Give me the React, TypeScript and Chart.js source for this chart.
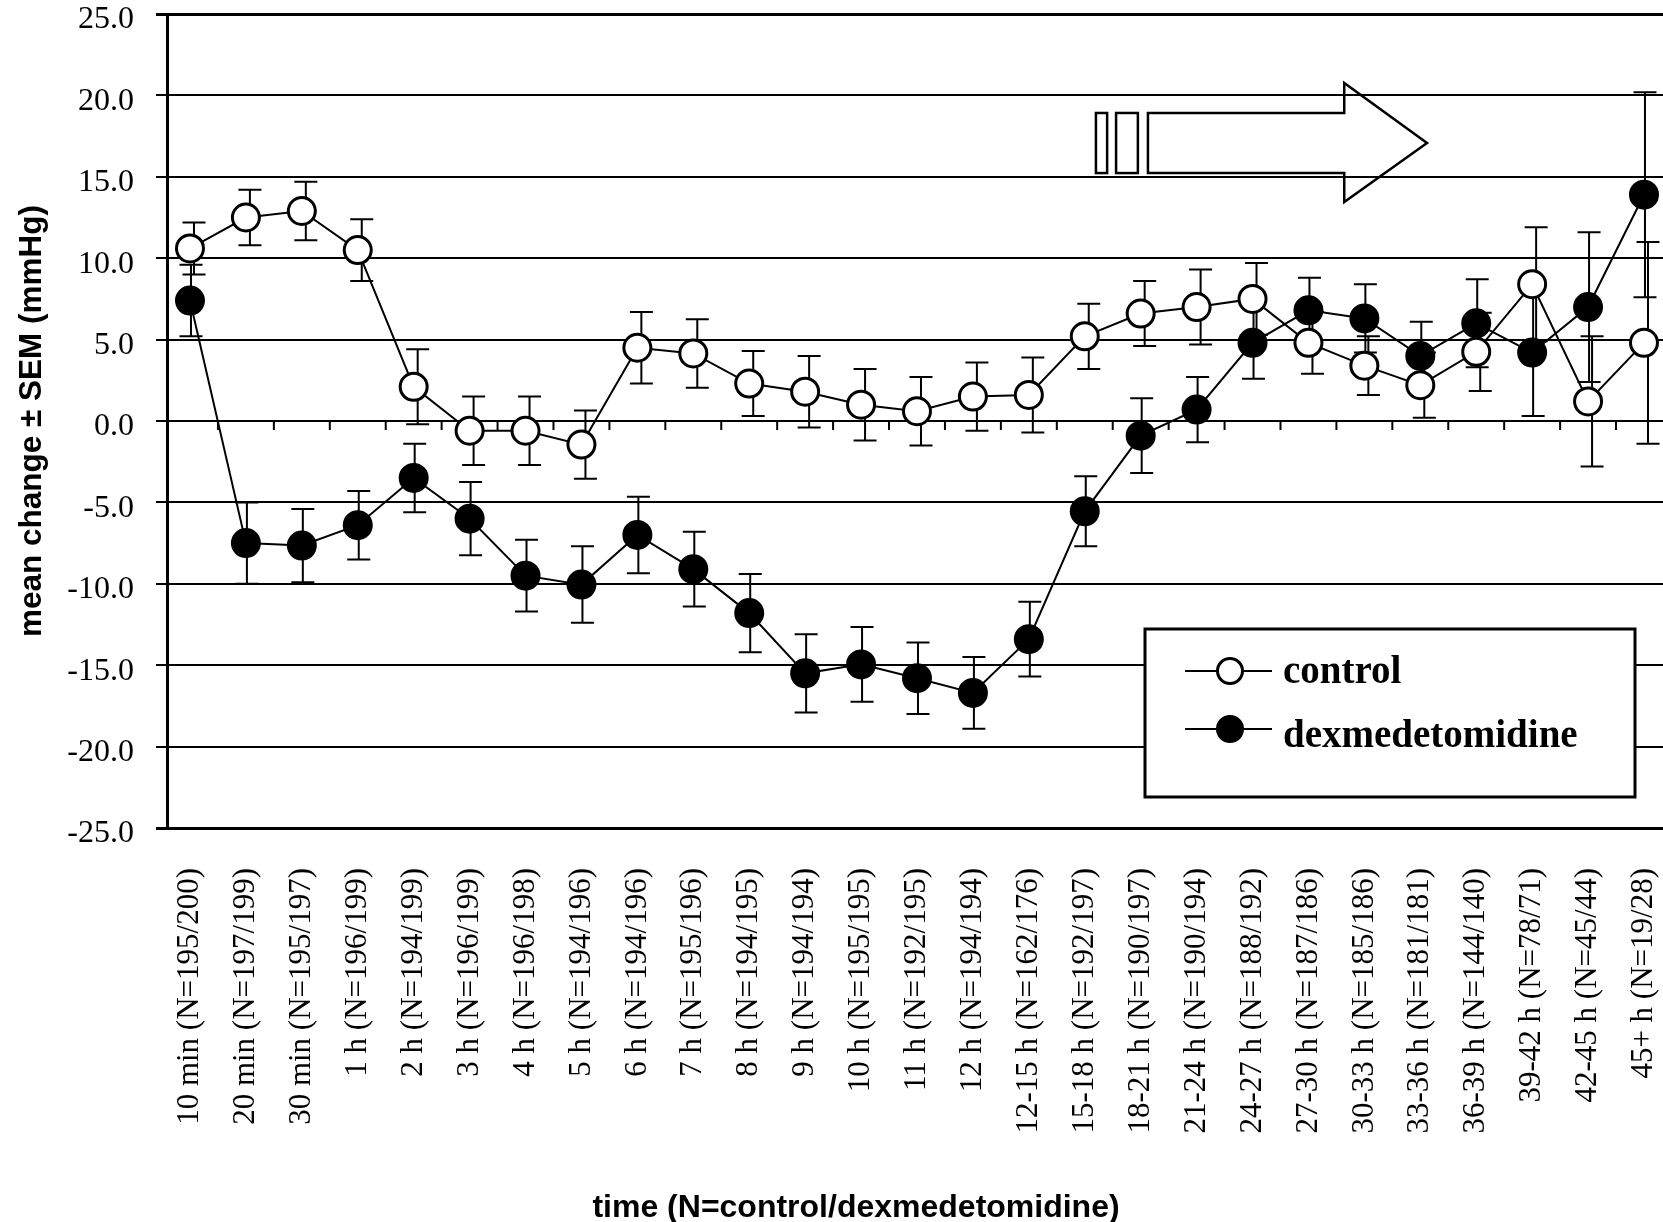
import React, { useEffect, useRef } from "react";
import { Chart, registerables } from "chart.js";

Chart.register(...registerables);

// ---------------- data ----------------
const timeLabels: string[] = [
  "10 min (N=195/200)",
  "20 min (N=197/199)",
  "30 min (N=195/197)",
  "1 h (N=196/199)",
  "2 h (N=194/199)",
  "3 h (N=196/199)",
  "4 h (N=196/198)",
  "5 h (N=194/196)",
  "6 h (N=194/196)",
  "7 h (N=195/196)",
  "8 h (N=194/195)",
  "9 h (N=194/194)",
  "10 h (N=195/195)",
  "11 h (N=192/195)",
  "12 h (N=194/194)",
  "12-15 h (N=162/176)",
  "15-18 h (N=192/197)",
  "18-21 h (N=190/197)",
  "21-24 h (N=190/194)",
  "24-27 h (N=188/192)",
  "27-30 h (N=187/186)",
  "30-33 h (N=185/186)",
  "33-36 h (N=181/181)",
  "36-39 h (N=144/140)",
  "39-42 h (N=78/71)",
  "42-45 h (N=45/44)",
  "45+ h (N=19/28)",
];

const controlMean: number[] = [
  10.6, 12.5, 12.9, 10.5, 2.1, -0.6, -0.6, -1.45, 4.5, 4.15, 2.3, 1.8, 1.0, 0.6,
  1.5, 1.6, 5.2, 6.6, 7.0, 7.5, 4.8, 3.4, 2.2, 4.25, 8.4, 1.2, 4.8,
];
const controlSem: number[] = [
  1.6, 1.7, 1.8, 1.9, 2.3, 2.1, 2.1, 2.1, 2.2, 2.1, 2.0, 2.2, 2.2, 2.1, 2.1, 2.3,
  2.0, 2.0, 2.3, 2.2, 1.9, 1.8, 2.0, 2.4, 3.5, 4.0, 6.2,
];

const dexMean: number[] = [
  7.4, -7.5, -7.65, -6.4, -3.5, -6.0, -9.5, -10.05, -7.0, -9.1, -11.8, -15.5,
  -14.95, -15.8, -16.7, -13.4, -5.55, -0.9, 0.7, 4.8, 6.8, 6.3, 4.0, 6.0, 4.2,
  7.0, 13.9,
];
const dexSem: number[] = [
  2.2, 2.5, 2.25, 2.1, 2.1, 2.25, 2.2, 2.35, 2.35, 2.3, 2.4, 2.4, 2.3, 2.2, 2.2,
  2.3, 2.15, 2.3, 2.0, 2.2, 2.0, 2.1, 2.1, 2.7, 3.9, 4.6, 6.3,
];

const seriesNames: string[] = ["control", "dexmedetomidine"];
const yTickValues: number[] = [-25, -20, -15, -10, -5, 0, 5, 10, 15, 20, 25];
const xAxisTitle = "time (N=control/dexmedetomidine)";
const yAxisTitle = "mean change \u00b1 SEM (mmHg)";

// ---------------- plugins ----------------
const SERIF = "'Liberation Serif', 'Times New Roman', serif";
const SANS = "'Liberation Sans', Arial, sans-serif";

const zeroLineTicks = {
  id: "zeroLineTicks",
  beforeDatasetsDraw(chart: any) {
    const { ctx, scales } = chart;
    const x = scales.x;
    const y = scales.y;
    const y0 = y.getPixelForValue(0);
    ctx.save();
    ctx.strokeStyle = "#000";
    ctx.lineWidth = 2;
    for (let i = 0; i < timeLabels.length - 1; i++) {
      const px = x.getPixelForValue(i + 0.5);
      ctx.beginPath();
      ctx.moveTo(px, y0);
      ctx.lineTo(px, y0 + 9);
      ctx.stroke();
    }
    ctx.restore();
  },
};

const errorBars = {
  id: "errorBars",
  beforeDatasetsDraw(chart: any) {
    const { ctx, scales } = chart;
    const y = scales.y;
    ctx.save();
    ctx.strokeStyle = "#000";
    ctx.lineWidth = 2;
    chart.data.datasets.forEach((ds: any, di: number) => {
      const meta = chart.getDatasetMeta(di);
      meta.data.forEach((pt: any, j: number) => {
        const v = ds.data[j].y;
        const s = ds.sem[j];
        const px = pt.x + ds.barShift;
        const yt = y.getPixelForValue(v + s);
        const yb = y.getPixelForValue(v - s);
        ctx.beginPath();
        ctx.moveTo(px, yt);
        ctx.lineTo(px, yb);
        ctx.moveTo(px - 11.5, yt);
        ctx.lineTo(px + 11.5, yt);
        ctx.moveTo(px - 11.5, yb);
        ctx.lineTo(px + 11.5, yb);
        ctx.stroke();
      });
    });
    ctx.restore();
  },
};

const infusionArrow = {
  id: "infusionArrow",
  beforeDatasetsDraw(chart: any) {
    const { ctx, scales } = chart;
    const X = (v: number) => scales.x.getPixelForValue(v);
    const Y = (v: number) => scales.y.getPixelForValue(v);
    ctx.save();
    ctx.strokeStyle = "#000";
    ctx.lineWidth = 2.5;
    ctx.lineJoin = "miter";
    ctx.strokeRect(X(16.2), Y(18.92), X(16.4) - X(16.2), Y(15.23) - Y(18.92));
    ctx.strokeRect(X(16.56), Y(18.92), X(16.95) - X(16.56), Y(15.23) - Y(18.92));
    ctx.beginPath();
    ctx.moveTo(X(17.13), Y(18.92));
    ctx.lineTo(X(20.64), Y(18.92));
    ctx.lineTo(X(20.64), Y(20.76));
    ctx.lineTo(X(22.12), Y(17.08));
    ctx.lineTo(X(20.64), Y(13.45));
    ctx.lineTo(X(20.64), Y(15.23));
    ctx.lineTo(X(17.13), Y(15.23));
    ctx.closePath();
    ctx.stroke();
    ctx.restore();
  },
};

const drawMarker = (ctx: any, x: number, y: number, r: number, fill: string) => {
  ctx.beginPath();
  ctx.arc(x, y, r, 0, Math.PI * 2);
  ctx.fillStyle = fill;
  ctx.fill();
  ctx.lineWidth = 3;
  ctx.strokeStyle = "#000";
  ctx.stroke();
};

const boxLegend = {
  id: "boxLegend",
  afterDraw(chart: any) {
    const { ctx, chartArea } = chart;
    const L = chartArea.left + 978;
    const T = chartArea.top + 615;
    const W = 490;
    const H = 168;
    ctx.save();
    ctx.fillStyle = "#fff";
    ctx.fillRect(L, T, W, H);
    ctx.strokeStyle = "#000";
    ctx.lineWidth = 3;
    ctx.strokeRect(L, T, W, H);
    const rows = [
      { y: T + 42, base: T + 54, fill: "#fff" },
      { y: T + 100, base: T + 118, fill: "#000" },
    ];
    rows.forEach((r, i) => {
      ctx.strokeStyle = "#000";
      ctx.lineWidth = 2;
      ctx.beginPath();
      ctx.moveTo(L + 40, r.y);
      ctx.lineTo(L + 127, r.y);
      ctx.stroke();
      drawMarker(ctx, L + 85, r.y, 12.5, r.fill);
      ctx.fillStyle = "#000";
      ctx.font = `bold 39px ${SERIF}`;
      ctx.textAlign = "left";
      ctx.textBaseline = "alphabetic";
      ctx.fillText(seriesNames[i], L + 138, r.base);
    });
    ctx.restore();
  },
};

const bottomTitle = {
  id: "bottomTitle",
  afterDraw(chart: any) {
    const { ctx, scales } = chart;
    ctx.save();
    ctx.fillStyle = "#000";
    ctx.font = `bold 32px ${SANS}`;
    ctx.textAlign = "center";
    ctx.textBaseline = "alphabetic";
    ctx.fillText(xAxisTitle, scales.x.getPixelForValue(11.91), 1217);
    ctx.restore();
  },
};

// ---------------- component ----------------
export default function App() {
  const canvasRef = useRef<HTMLCanvasElement | null>(null);

  useEffect(() => {
    if (!canvasRef.current) return;
    const chart = new Chart(canvasRef.current, {
      type: "line",
      data: {
        datasets: [
          {
            label: seriesNames[0],
            data: controlMean.map((v, i) => ({ x: i, y: v })),
            sem: controlSem,
            barShift: 4,
            borderColor: "#000",
            borderWidth: 2,
            pointRadius: 13.5,
            pointHoverRadius: 13.5,
            pointBorderWidth: 3,
            pointBackgroundColor: "#fff",
            pointBorderColor: "#000",
            tension: 0,
            order: 1,
          } as any,
          {
            label: seriesNames[1],
            data: dexMean.map((v, i) => ({ x: i, y: v })),
            sem: dexSem,
            barShift: 1,
            borderColor: "#000",
            borderWidth: 2,
            pointRadius: 13.5,
            pointHoverRadius: 13.5,
            pointBorderWidth: 3,
            pointBackgroundColor: "#000",
            pointBorderColor: "#000",
            tension: 0,
            order: 0,
          } as any,
        ],
      },
      options: {
        responsive: false,
        animation: false,
        events: [],
        layout: { autoPadding: false, padding: { top: 14, left: 0, right: 0, bottom: 0 } },
        plugins: {
          legend: { display: false },
          tooltip: { enabled: false },
        },
        scales: {
          x: {
            type: "linear",
            min: -0.411,
            max: 26.34,
            grid: { display: false, drawTicks: false },
            border: { display: true, color: "#000", width: 3 },
            afterBuildTicks: (scale: any) => {
              scale.ticks = timeLabels.map((_, i) => ({ value: i }));
            },
            afterFit: (scale: any) => {
              scale.height = 394;
              scale.paddingLeft = 0;
              scale.paddingRight = 0;
            },
            ticks: {
              autoSkip: false,
              minRotation: 90,
              maxRotation: 90,
              padding: 40,
              color: "#000",
              font: { family: SERIF, size: 31 },
              callback: (v: any) => timeLabels[Math.round(Number(v))] ?? "",
            },
          },
          y: {
            type: "linear",
            min: -25,
            max: 25,
            afterBuildTicks: (scale: any) => {
              scale.ticks = yTickValues.map((v) => ({ value: v }));
            },
            afterFit: (scale: any) => {
              scale.width = 167;
              scale.paddingTop = 0;
              scale.paddingBottom = 0;
            },
            grid: {
              color: "#000",
              lineWidth: (c: any) =>
                c.tick && Math.abs(c.tick.value) === 25 ? 3 : 2,
              drawTicks: true,
              tickLength: 11,
            },
            border: { display: true, color: "#000", width: 3 },
            ticks: {
              padding: 22,
              labelOffset: 6,
              color: "#000",
              font: { family: SERIF, size: 32, lineHeight: 0.9 },
              callback: (v: any) => Number(v).toFixed(1),
            },
            title: {
              display: true,
              text: yAxisTitle,
              color: "#000",
              font: { family: SANS, size: 31.5, weight: "bold" },
              padding: { top: 13, bottom: 0 },
            },
          },
        },
      } as any,
      plugins: [zeroLineTicks, errorBars, infusionArrow, boxLegend, bottomTitle],
    });
    return () => chart.destroy();
  }, []);

  return (
    <div
      style={{
        position: "fixed",
        left: 0,
        top: 0,
        width: 1663,
        height: 1222,
        background: "#fff",
        overflow: "hidden",
      }}
    >
      <canvas
        ref={canvasRef}
        width={1663}
        height={1222}
        style={{ display: "block", width: 1663, height: 1222 }}
      />
    </div>
  );
}
